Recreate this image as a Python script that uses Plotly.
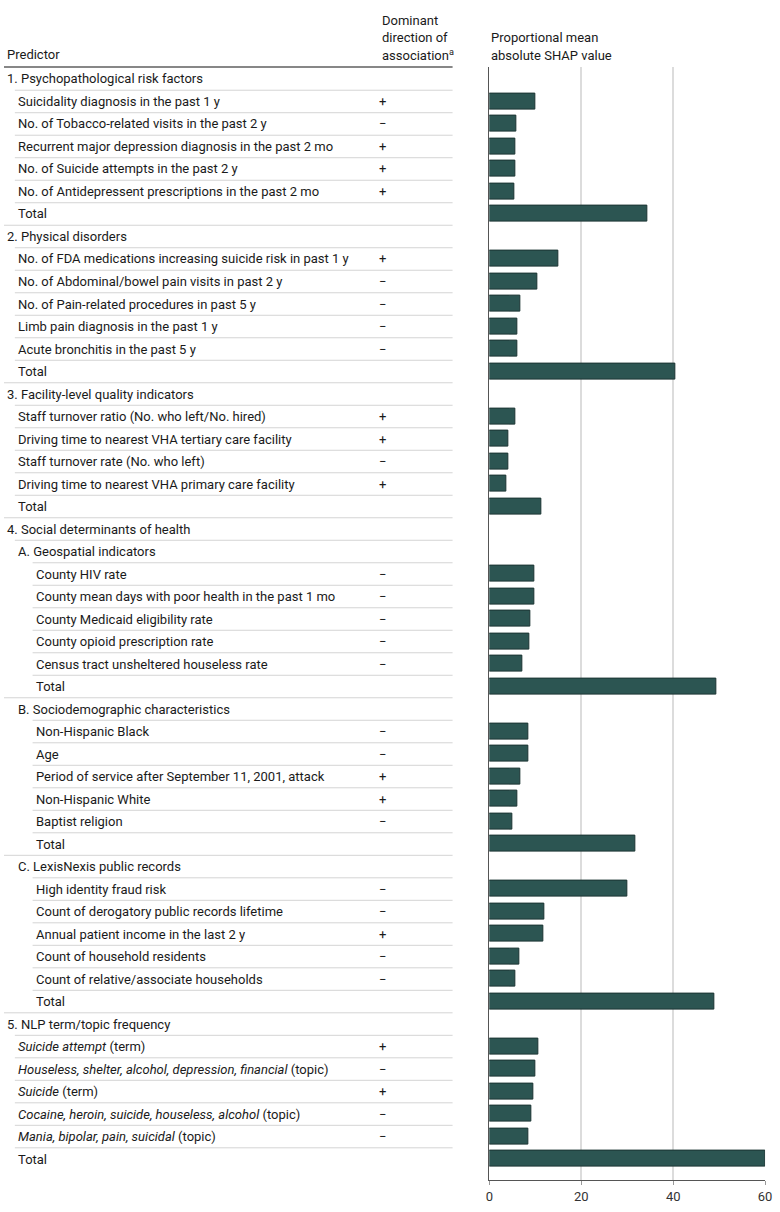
import plotly.graph_objects as go

# ---------------- data ----------------
row_labels = [
    "1. Psychopathological risk factors",
    "Suicidality diagnosis in the past 1 y",
    "No. of Tobacco-related visits in the past 2 y",
    "Recurrent major depression diagnosis in the past 2 mo",
    "No. of Suicide attempts in the past 2 y",
    "No. of Antidepressent prescriptions in the past 2 mo",
    "Total",
    "2. Physical disorders",
    "No. of FDA medications increasing suicide risk in past 1 y",
    "No. of Abdominal/bowel pain visits in past 2 y",
    "No. of Pain-related procedures in past 5 y",
    "Limb pain diagnosis in the past 1 y",
    "Acute bronchitis in the past 5 y",
    "Total",
    "3. Facility-level quality indicators",
    "Staff turnover ratio (No. who left/No. hired)",
    "Driving time to nearest VHA tertiary care facility",
    "Staff turnover rate (No. who left)",
    "Driving time to nearest VHA primary care facility",
    "Total",
    "4. Social determinants of health",
    "A. Geospatial indicators",
    "County HIV rate",
    "County mean days with poor health in the past 1 mo",
    "County Medicaid eligibility rate",
    "County opioid prescription rate",
    "Census tract unsheltered houseless rate",
    "Total",
    "B. Sociodemographic characteristics",
    "Non-Hispanic Black",
    "Age",
    "Period of service after September 11, 2001, attack",
    "Non-Hispanic White",
    "Baptist religion",
    "Total",
    "C. LexisNexis public records",
    "High identity fraud risk",
    "Count of derogatory public records lifetime",
    "Annual patient income in the last 2 y",
    "Count of household residents",
    "Count of relative/associate households",
    "Total",
    "5. NLP term/topic frequency",
    "<i>Suicide attempt</i> (term)",
    "<i>Houseless, shelter, alcohol, depression, financial</i> (topic)",
    "<i>Suicide</i> (term)",
    "<i>Cocaine, heroin, suicide, houseless, alcohol</i> (topic)",
    "<i>Mania, bipolar, pain, suicidal</i> (topic)",
    "Total",
]

# hierarchy level of each row (0 = section, 1 = item / subsection, 2 = sub-item)
row_levels = [
    0, 1, 1, 1, 1, 1, 1,
    0, 1, 1, 1, 1, 1, 1,
    0, 1, 1, 1, 1, 1,
    0,
    1, 2, 2, 2, 2, 2, 2,
    1, 2, 2, 2, 2, 2, 2,
    1, 2, 2, 2, 2, 2, 2,
    0, 1, 1, 1, 1, 1, 1,
]

row_direction = [
    "", "+", "−", "+", "+", "+", "",
    "", "+", "−", "−", "−", "−", "",
    "", "+", "+", "−", "+", "",
    "",
    "", "−", "−", "−", "−", "−", "",
    "", "−", "−", "+", "+", "−", "",
    "", "−", "−", "+", "−", "−", "",
    "", "+", "−", "+", "−", "−", "",
]

row_values = [
    None, 10.0, 5.8, 5.6, 5.6, 5.4, 34.3,
    None, 15.1, 10.5, 6.8, 6.2, 6.2, 40.4,
    None, 5.6, 4.2, 4.1, 3.8, 11.4,
    None,
    None, 9.8, 9.8, 9.0, 8.7, 7.1, 49.3,
    None, 8.5, 8.4, 6.8, 6.1, 5.1, 31.7,
    None, 30.1, 11.9, 11.7, 6.6, 5.7, 48.9,
    None, 10.6, 10.1, 9.6, 9.1, 8.5, 60.1,
]

x_ticks = [0, 20, 40, 60]

header_predictor = "Predictor"
header_direction = ["Dominant", "direction of", "association<sup>a</sup>"]
header_value = ["Proportional mean", "absolute SHAP value"]

# ---------------- figure ----------------
W, H = 780, 1212
FONT = "Roboto"
FS = 13
TXT = "#1a1a1a"
BAR = "#2c5552"
BAR_EDGE = "#1c3533"

indent_px = {0: 1, 1: 12, 2: 30}
n = len(row_labels)
rows = list(range(n))

bar_y = [r for r in rows if row_values[r] is not None]
bar_x = [row_values[r] for r in bar_y]

fig = go.Figure()
fig.add_trace(go.Bar(
    x=bar_x, y=bar_y, orientation="h",
    marker=dict(color=BAR, line=dict(color=BAR_EDGE, width=1)),
    width=0.71, hoverinfo="x",
))

def px(xp):
    return xp / W

def py(yp):
    return 1 - yp / H

annotations = []
shapes = []

for r in rows:
    annotations.append(dict(
        x=px(indent_px[row_levels[r]]), y=r, xref="paper", yref="y",
        text=row_labels[r], showarrow=False, xanchor="left", yanchor="middle",
        font=dict(family=FONT, size=FS, color=TXT),
    ))
    if row_direction[r]:
        annotations.append(dict(
            x=px(384), y=r, xref="paper", yref="y",
            text=row_direction[r], showarrow=False, xanchor="center", yanchor="middle",
            font=dict(family=FONT, size=FS, color=TXT),
        ))
    if r < n - 1:
        x0 = 0 if row_labels[r] == "Total" else indent_px[row_levels[r + 1]] - 1
        shapes.append(dict(
            type="line", xref="paper", yref="y",
            x0=px(x0), x1=px(455), y0=r + 0.5, y1=r + 0.5,
            line=dict(color="#d4d4d4", width=1),
        ))

# header rule
shapes.append(dict(
    type="line", xref="paper", yref="y",
    x0=0, x1=px(455), y0=-0.55, y1=-0.55,
    line=dict(color="#111111", width=2),
))

annotations.append(dict(
    x=px(1), y=py(55), xref="paper", yref="paper", text=header_predictor,
    showarrow=False, xanchor="left", yanchor="middle",
    font=dict(family=FONT, size=FS, color=TXT),
))
for i, t in enumerate(header_direction):
    annotations.append(dict(
        x=px(381), y=py(20.5 + 17.3 * i), xref="paper", yref="paper", text=t,
        showarrow=False, xanchor="left", yanchor="middle",
        font=dict(family=FONT, size=FS, color=TXT),
    ))
for i, t in enumerate(header_value):
    annotations.append(dict(
        x=px(492), y=py(37.8 + 17.3 * i), xref="paper", yref="paper", text=t,
        showarrow=False, xanchor="left", yanchor="middle",
        font=dict(family=FONT, size=FS, color=TXT),
    ))

fig.update_layout(
    width=W, height=H,
    margin=dict(l=0, r=0, t=0, b=0),
    paper_bgcolor="white", plot_bgcolor="white",
    showlegend=False,
    bargap=0,
    annotations=annotations,
    shapes=shapes,
    xaxis=dict(
        domain=[492.3 / W, 772.0 / W],
        range=[0, 60], tickvals=x_ticks, ticktext=[str(t) for t in x_ticks],
        showgrid=True, gridcolor="#dcdcdc", gridwidth=1.5,
        zeroline=False,
        showline=True, linecolor="#555555", linewidth=1,
        ticks="outside", ticklen=4, tickcolor="#999999",
        tickfont=dict(family=FONT, size=FS, color="#333333"),
        fixedrange=True,
    ),
    yaxis=dict(
        domain=[1 - 1180 / H, 1 - 66.6 / H],
        range=[48.93, -0.55],
        showgrid=False, zeroline=False, showticklabels=False, ticks="",
        showline=True, linecolor="#555555", linewidth=1,
        fixedrange=True,
    ),
)

fig.write_html(
    "out.html",
    config={"displayModeBar": False},
    post_script="document.body.style.margin='0px';document.body.style.overflow='hidden';",
)
